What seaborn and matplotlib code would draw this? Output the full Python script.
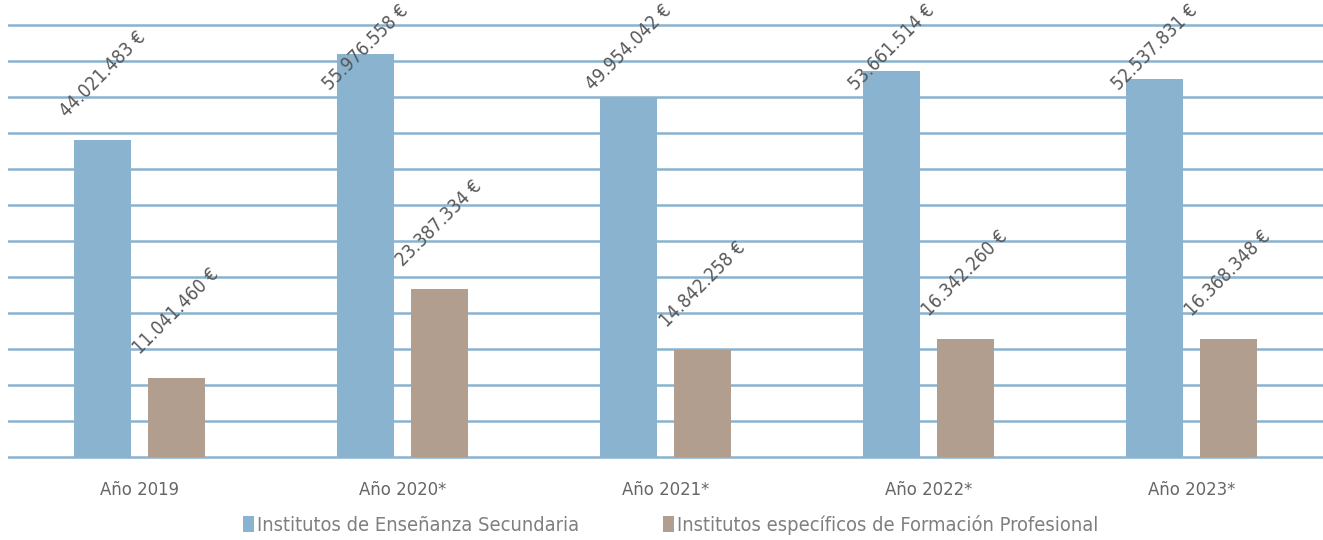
import matplotlib
matplotlib.use("Agg")
import matplotlib.pyplot as plt
import seaborn as sns
import pandas as pd

years = ["Año 2019", "Año 2020*", "Año 2021*", "Año 2022*", "Año 2023*"]
series_names = ["Institutos de Enseñanza Secundaria",
                "Institutos específicos de Formación Profesional"]
secundaria = [44021483, 55976558, 49954042, 53661514, 52537831]
formacion_prof = [11041460, 23387334, 14842258, 16342260, 16368348]
colors = ["#8ab3cf", "#b29e8f"]

sns.set_theme(style="white")
plt.rcParams["font.family"] = ["DejaVu Sans"]
plt.rcParams["font.stretch"] = "condensed"

df = pd.DataFrame({
    "year": years * 2,
    "serie": [series_names[0]] * len(years) + [series_names[1]] * len(years),
    "valor": secundaria + formacion_prof,
})

W, H = 1323, 540
fig = plt.figure(figsize=(W / 100, H / 100), dpi=100)
ax = fig.add_axes([8 / W, 1 - 459 / H, 1 - 8 / W, 459 / H])

sns.barplot(data=df, x="year", y="valor", hue="serie", palette=colors,
            width=0.56, gap=0.22, ax=ax, linewidth=0, zorder=3,
            saturation=1, err_kws={"linewidth": 0})

unit = 5e6 / 35.96
ax.set_xlim(-0.5, 4.5)
ax.set_ylim(-2 * unit, 60e6 + 25.5 * unit)
ax.set_yticks(range(0, 60_000_001, 5_000_000))
ax.yaxis.grid(True, color="#8ab3cf", linewidth=1.8, zorder=0)
ax.xaxis.grid(False)
ax.set_axisbelow(True)
ax.tick_params(axis="y", left=False, labelleft=False)
ax.tick_params(axis="x", bottom=False, labelsize=13.2, labelcolor="#666666", pad=10)
for s in ax.spines.values():
    s.set_visible(False)
ax.set_xlabel("")
ax.set_ylabel("")

handles, labels = ax.get_legend_handles_labels()
if ax.get_legend() is not None:
    ax.get_legend().remove()
fig.legend(handles, labels, loc="center", bbox_to_anchor=(0.507, 1 - 525 / H),
           ncol=2, frameon=False, fontsize=14.4, labelcolor="#7f7f7f",
           handlelength=0.55, handleheight=0.8, handletextpad=0.15,
           columnspacing=4.2)


def fmt(v):
    return f"{int(round(v)):,}".replace(",", ".") + " €"


anns = []
for cont in ax.containers:
    for bar in cont:
        x = bar.get_x() + bar.get_width() / 2
        h = bar.get_height()
        a = ax.annotate(fmt(h), (x, h), xytext=(0, 14), textcoords="offset points",
                        rotation=45, ha="center", va="bottom", fontsize=13.5,
                        color="#595959", annotation_clip=False)
        anns.append(a)

fig.canvas.draw()
r = fig.canvas.get_renderer()
Hpx = fig.bbox.height
for a in anns:
    bb = a.get_window_extent(r)
    excess = bb.y1 - (Hpx - 1)
    if excess > 0:
        ox, oy = a.xyann
        a.xyann = (ox, oy - excess * 72 / fig.dpi)

fig.savefig("out.png", dpi=100)
